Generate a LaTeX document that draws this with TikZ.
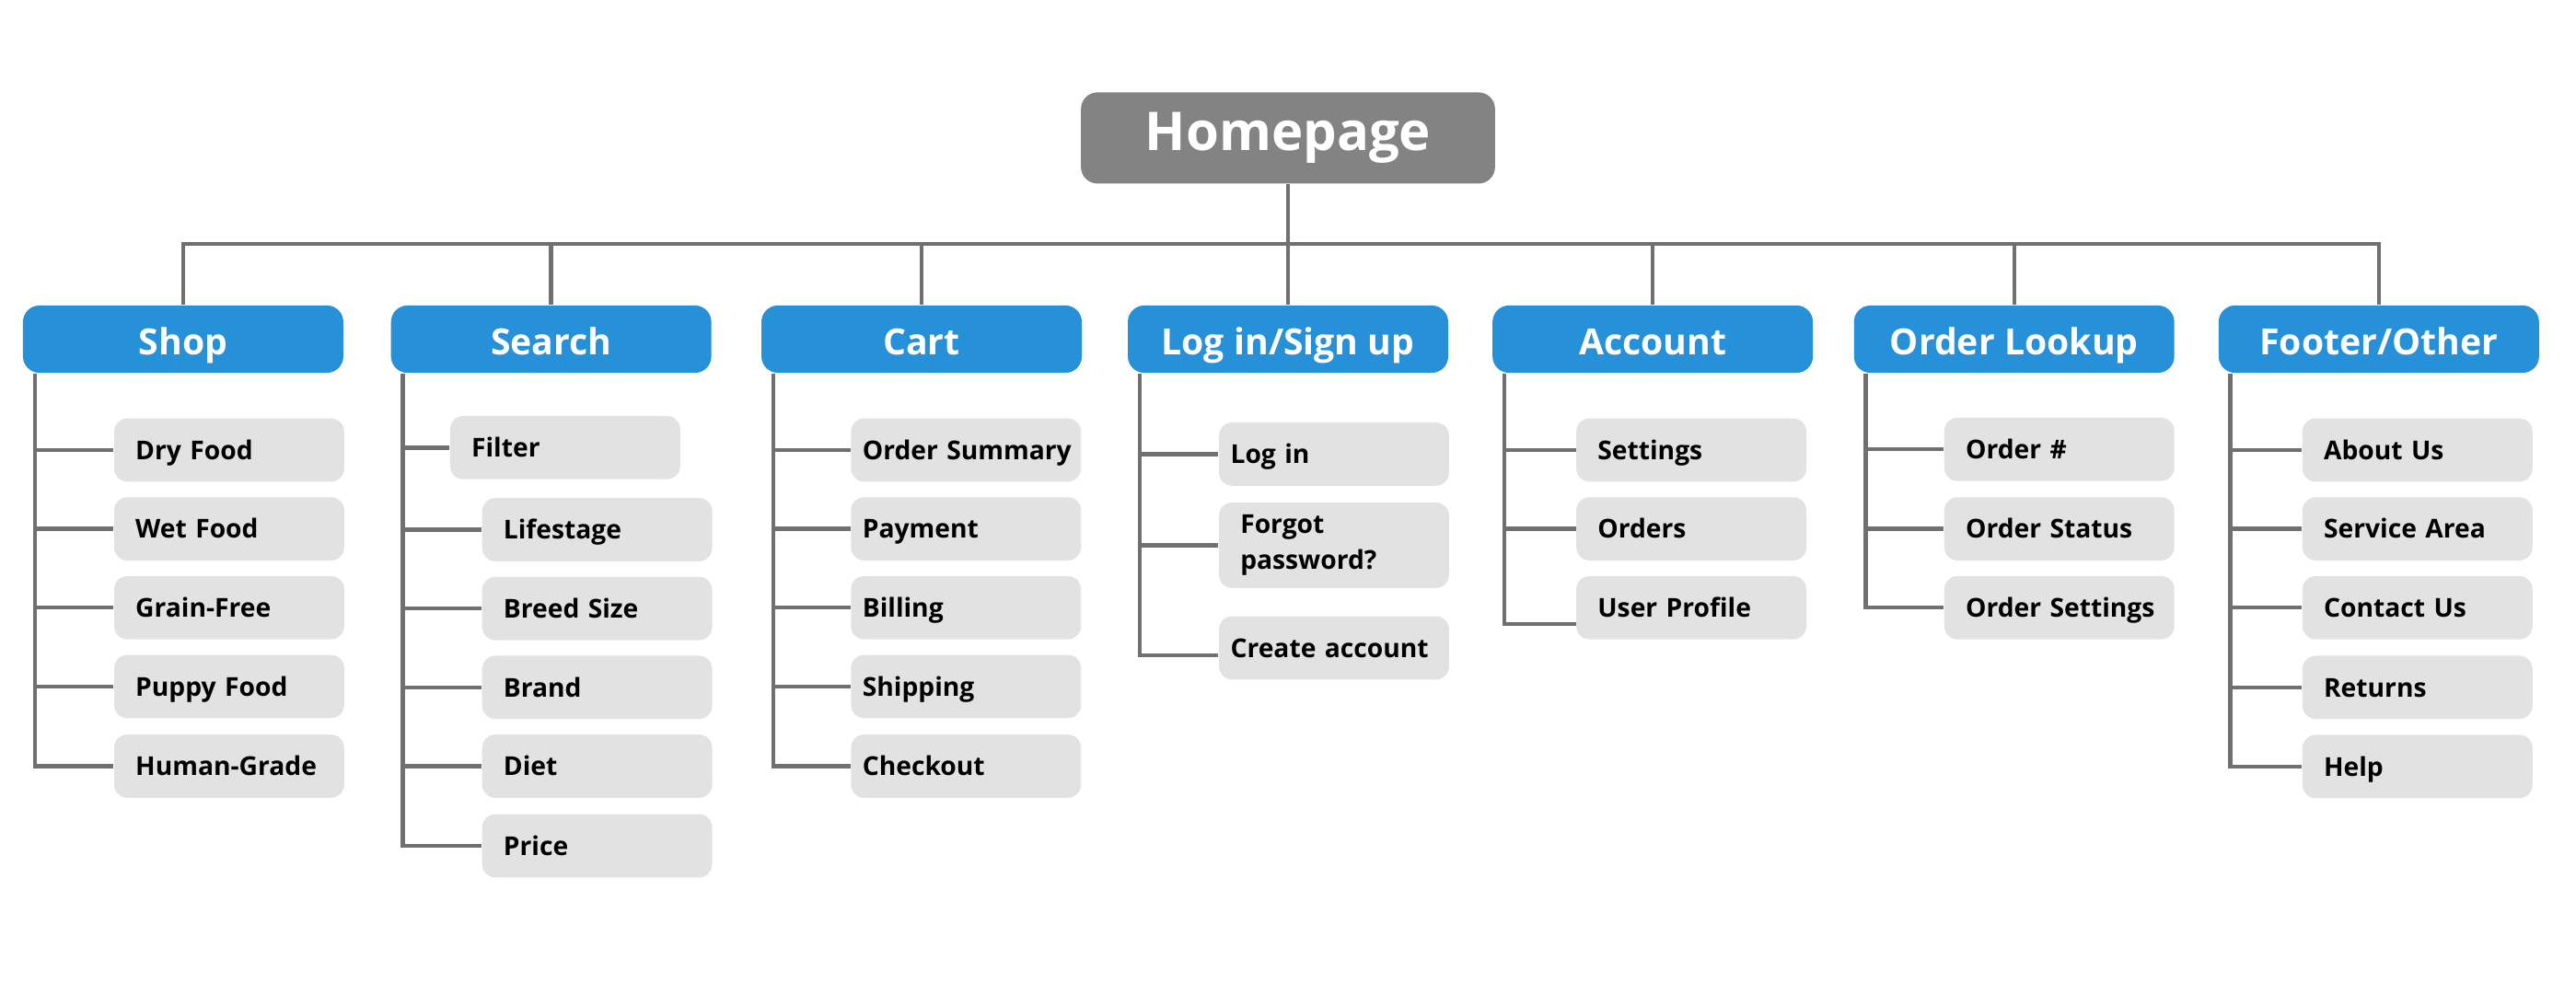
\documentclass[tikz,border=0pt]{standalone}
\usepackage{fontspec}
\setmainfont{Open Sans}
\definecolor{catblue}{RGB}{38,144,216}
\definecolor{homegray}{RGB}{131,131,131}
\definecolor{itemgray}{RGB}{226,226,226}
\definecolor{linegray}{RGB}{112,112,112}
\tikzset{
  homebox/.style={fill=homegray, text=white, rounded corners=2mm, minimum width=50.4mm, minimum height=11.1mm, font=\fontsize{18.5}{22}\selectfont\bfseries},
  catbox/.style={fill=catblue, text=white, rounded corners=2mm, minimum width=39mm, minimum height=8.2mm, text height=12.9pt, text depth=2pt, font=\fontsize{12.5}{15}\selectfont\bfseries},
  itembase/.style={fill=itemgray, rounded corners=1.6mm, minimum height=7.7mm, inner xsep=2.6mm, text width=22.8mm, align=left, font=\fontsize{9}{12.5}\selectfont\bfseries},
  itembox/.style={itembase, text height=8.6pt, text depth=2pt},
  itemtight/.style={itembox, inner xsep=1.4mm, text width=25.2mm},
  link/.style={draw=linegray, line width=0.5mm}
}
\begin{document}
\begin{tikzpicture}[x=0.2mm, y=-0.2mm]
    \useasboundingbox (0,0) rectangle (1568,605);

    % Top level:
    \node[homebox] (home) at (784,84) {Homepage};
    \coordinate (bus) at (784,148.5);

    % Sections:
    \foreach \name/\x/\txt in {shop/111.5/Shop, search/335.5/Search, cart/561/Cart,
        login/784/{Log in/Sign up}, account/1006/Account, lookup/1226/Order Lookup,
        footer/1448/{Footer/Other}}
        \node[catbox] (\name) at (\x,206.5) {\txt};

    % Pages under each section:
    \foreach \name/\y/\txt in {dry/274/Dry Food, wet/322/Wet Food, grain/370/Grain-Free,
        puppy/418/Puppy Food, human/466.5/Human-Grade}
        \node[itembox] (\name) at (139.5,\y) {\mbox{\txt}};

    \node[itembox] (filter) at (344,272.5) {Filter};
    \foreach \name/\y/\txt in {life/322.5/Lifestage, breed/370.5/Breed Size, brand/418.5/Brand,
        diet/466.5/Diet, price/515/Price}
        \node[itembox] (\name) at (363.5,\y) {\mbox{\txt}};

    \foreach \name/\y/\txt in {summary/274/Order Summary, payment/322/Payment, billing/370/Billing,
        shipping/418/Shipping, checkout/466.5/Checkout}
        \node[itemtight] (\name) at (588,\y) {\mbox{\txt}};

    \node[itemtight] (login1) at (812,276.5) {Log in};
    \node[itembase, minimum height=10.4mm] (forgot) at (812,332) {Forgot\\password?};
    \node[itemtight] (create) at (812,394.5) {\mbox{Create account}};

    \foreach \name/\y/\txt in {settings/274/Settings, orders/322/Orders, profile/370/User Profile}
        \node[itembox] (\name) at (1029.5,\y) {\mbox{\txt}};

    \foreach \name/\y/\txt in {ordernum/273.6/Order \#, status/322/Order Status, osettings/370/Order Settings}
        \node[itembox] (\name) at (1253.5,\y) {\mbox{\txt}};

    \foreach \name/\y/\txt in {about/274/About Us, service/322/Service Area, contact/370/Contact Us,
        returns/418.5/Returns, help/466.7/Help}
        \node[itembox] (\name) at (1471.5,\y) {\mbox{\txt}};

    % Connectors:
    \draw[link] (home.south) -- (bus);
    \draw[link] (shop.north) |- (bus) -| (footer.north);
    \foreach \c in {search,cart,login,account,lookup}
        \draw[link] (\c.north |- bus) -- (\c.north);

    \foreach \c/\n in {shop/dry, shop/wet, shop/grain, shop/puppy, shop/human,
        search/filter, search/life, search/breed, search/brand, search/diet, search/price,
        cart/summary, cart/payment, cart/billing, cart/shipping, cart/checkout,
        login/login1, login/forgot, account/settings, account/orders,
        lookup/ordernum, lookup/status, lookup/osettings,
        footer/about, footer/service, footer/contact, footer/returns, footer/help}
        \draw[link] ([xshift=1.5mm]\c.south west) |- (\n.west);
    \draw[link] ([xshift=1.5mm]login.south west) |- ([yshift=-0.9mm]create.west);
    \draw[link] ([xshift=1.5mm]account.south west) |- ([yshift=-2mm]profile.west);
\end{tikzpicture}
\end{document}
